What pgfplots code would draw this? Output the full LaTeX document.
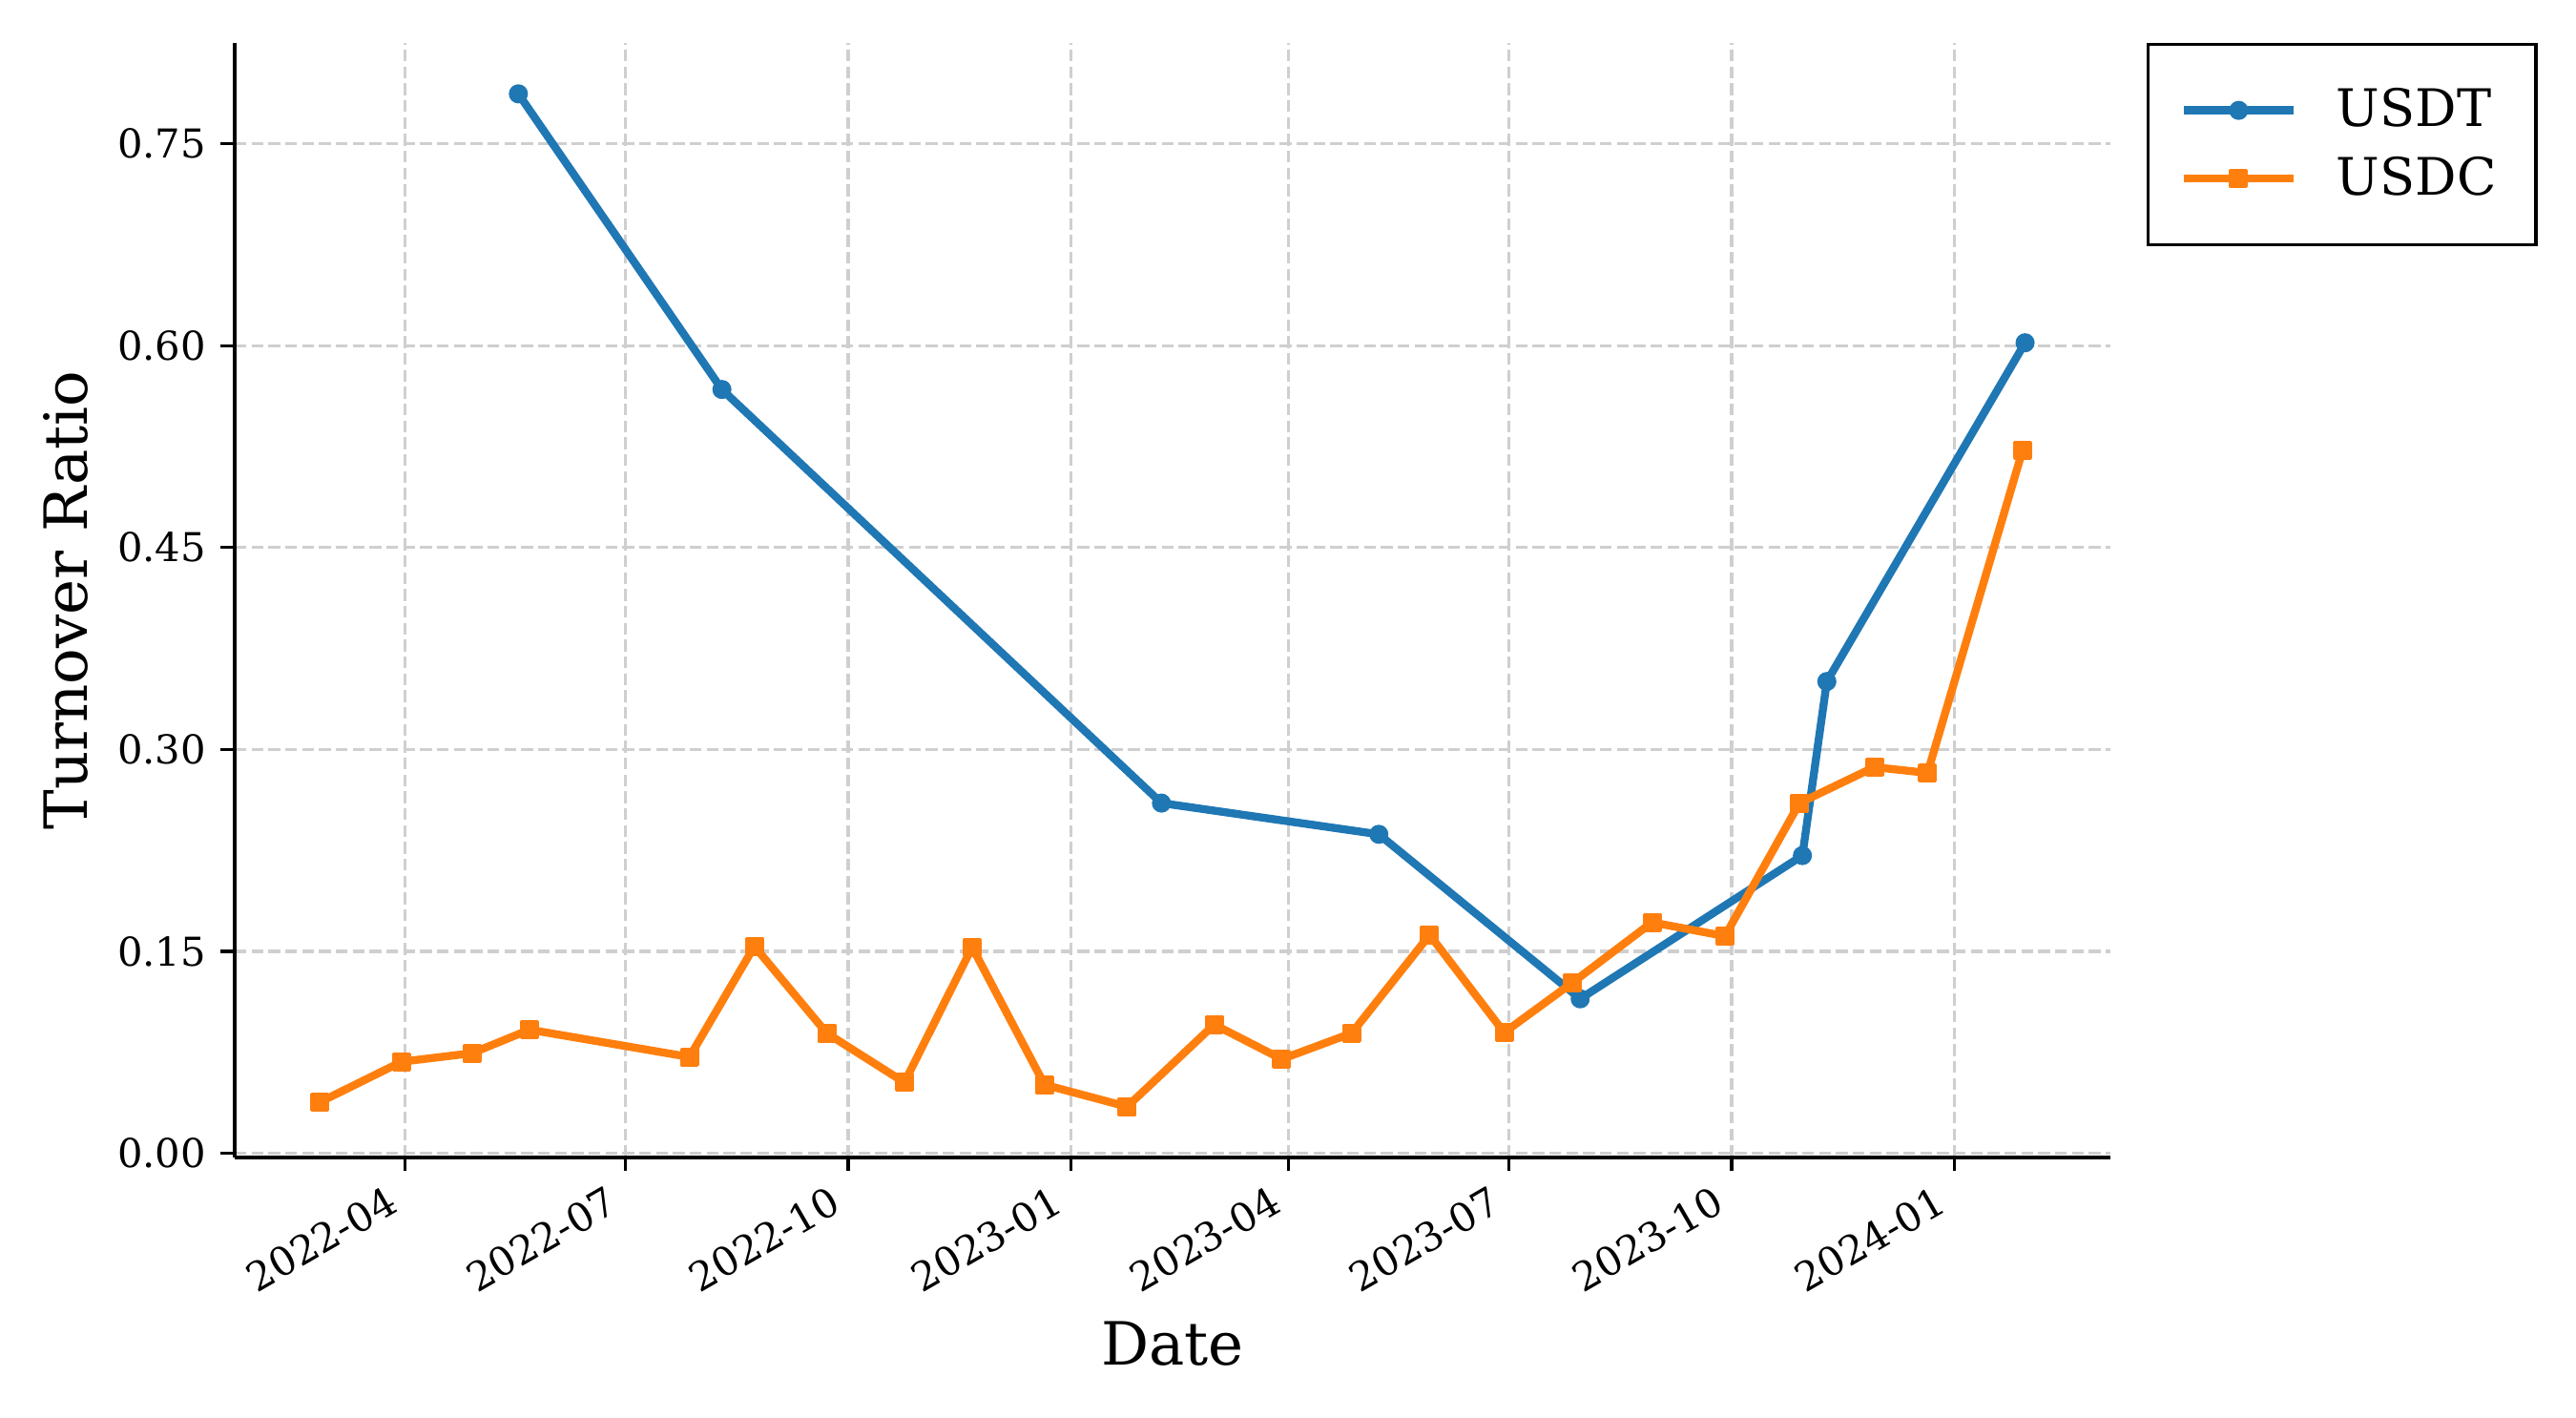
\documentclass[border=0pt]{standalone}
\usepackage{pgfplots}
\pgfplotsset{compat=1.18}
\usepackage{fontspec}
\setmainfont{DejaVu Serif}
\definecolor{tabblue}{RGB}{31,119,180}
\definecolor{taborange}{RGB}{255,127,14}
\definecolor{gridgray}{RGB}{207,207,207}
\begin{document}
\begin{tikzpicture}
\path[use as bounding box] (0,0) rectangle (648pt,356.4pt);
\begin{axis}[
  at={(59.04pt,65.33pt)}, anchor=south west,
  scale only axis, width=471.8pt, height=280.2pt,
  xmin=19.6, xmax=794.5, ymin=-0.0029, ymax=0.8246,
  axis lines*=left,
  axis line style={line width=0.9pt, black},
  tick align=outside, major tick length=3.5pt,
  tick style={line width=0.8pt, black},
  xtick={90,181,273,365,455,546,638,730},
  xticklabels={2022-04,2022-07,2022-10,2023-01,2023-04,2023-07,2023-10,2024-01},
  ytick={0,0.15,0.3,0.45,0.6,0.75},
  /pgf/number format/assume math mode=true,
  /pgf/number format/fixed, /pgf/number format/fixed zerofill, /pgf/number format/precision=2,
  ticklabel style={font=\fontsize{10}{12}\selectfont},
  xticklabel style={rotate=30, anchor=north east, inner sep=0pt, xshift=-5.9pt, yshift=-0.3pt},
  yticklabel style={anchor=east, inner sep=0pt, xshift=-3.5pt},
  grid=major,
  major grid style={line width=0.8pt, gridgray, dash pattern=on 2.96pt off 1.28pt},
  xlabel={Date}, ylabel={Turnover Ratio},
  label style={font=\fontsize{15}{18}\selectfont},
  xlabel style={at={(axis description cs:0.5,-0.1861)}, anchor=base},
  ylabel style={at={(axis description cs:-0.0785,0.5)}, anchor=base},
  legend style={at={(1.0193,1.0003)}, anchor=north west, draw=black, line width=0.8pt, fill=white,
    font=\fontsize{13}{15.6}\selectfont, inner xsep=7.9pt, inner ysep=9pt, row sep=2pt,
    nodes={inner sep=2pt, text depth=0.15em},
    /tikz/every odd column/.append style={column sep=7.7pt}},
  legend cell align=left,
  legend image code/.code={\draw[mark repeat=2, mark phase=2] plot coordinates {(0pt,0pt) (13.9pt,0pt) (27.8pt,0pt)};},
]
\addplot[color=tabblue, line width=2pt, line join=round, mark=*, mark size=2pt, mark options={solid, fill=tabblue, line width=0.8pt}]
coordinates {(136.8,0.787) (220.9,0.5674) (402.5,0.2602) (492.3,0.2370) (575.5,0.1148) (667.3,0.2212) (677.4,0.3505) (759.3,0.6021)};
\addlegendentry{USDT}
\addplot[color=taborange, line width=2pt, line join=round, mark=square*, mark size=2pt, mark options={solid, fill=taborange, line width=0.8pt}]
coordinates {(54.8,0.0381) (88.6,0.0681) (117.6,0.0744) (141.4,0.0919) (207.5,0.0716) (234.3,0.1538) (264.2,0.0893) (296.3,0.0527) (324.3,0.1531) (354.2,0.0510) (388.3,0.0347) (424.3,0.0957) (452.2,0.0700) (481.1,0.0893) (513.3,0.1623) (544.1,0.0898) (572.2,0.1267) (605.2,0.1716) (635.3,0.1614) (666.1,0.2602) (697.0,0.2869) (719.0,0.2826) (758.3,0.5224)};
\addlegendentry{USDC}
\end{axis}
\end{tikzpicture}
\end{document}
